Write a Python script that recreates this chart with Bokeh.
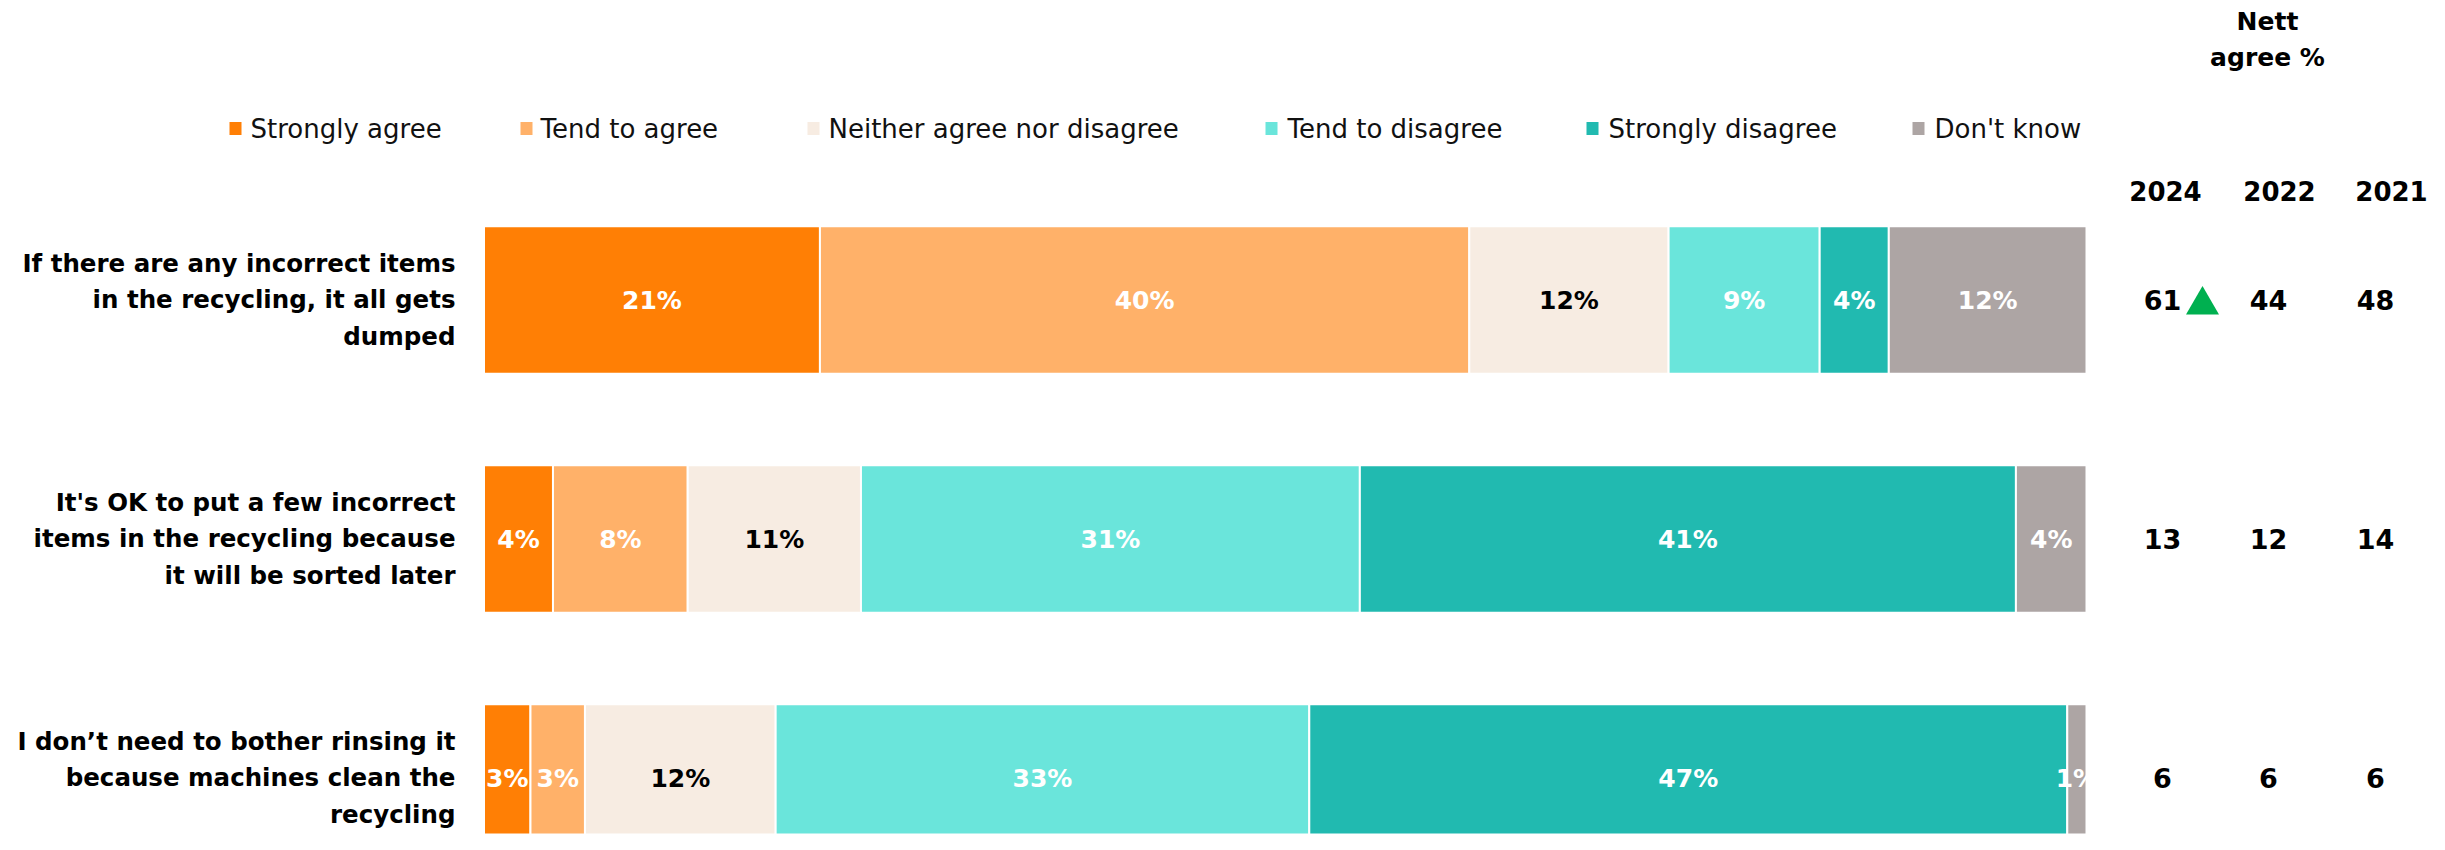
from bokeh.plotting import figure
from bokeh.models import Range1d
from bokeh.core.properties import value
from bokeh.embed import file_html
from bokeh.resources import INLINE

# ---------------- data ----------------
statements = [
    "If there are any incorrect items\nin the recycling, it all gets\ndumped",
    "It's OK to put a few incorrect\nitems in the recycling because\nit will be sorted later",
    "I don\u2019t need to bother rinsing it\nbecause machines clean the\nrecycling",
]
categories = ["Strongly agree", "Tend to agree", "Neither agree nor disagree",
              "Tend to disagree", "Strongly disagree", "Don't know"]
strongly_agree = [20.9, 4.3, 2.9]
tend_to_agree = [40.4, 8.4, 3.4]
neither = [12.4, 10.8, 11.9]
tend_to_disagree = [9.4, 31.1, 33.3]
strongly_disagree = [4.3, 40.9, 47.3]
dont_know = [12.3, 4.4, 1.2]

years = ["2024", "2022", "2021"]
nett_2024 = [61, 13, 6]
nett_2022 = [44, 12, 6]
nett_2021 = [48, 14, 6]
sig_increase_2024 = [True, False, False]

# ---------------- styles / layout ----------------
colors = ["#FF7F05", "#FFB169", "#F7ECE2", "#6AE5DB", "#21BAB0", "#ADA5A4"]
label_colors = ["white", "white", "black", "white", "white", "white"]
FONT = "DejaVu Sans"

W, H = 2429, 834
OFFSET = 0                # canvas offset relative to reference pixels
PX_PER_UNIT = 16.025      # pixels per percentage point
BAR_LEFT_PX = 483.5       # canvas px of 0%
ROW_PX = 239.0            # pixels between rows
ROW0_PX = 299.5           # canvas px of first row centre


def X(ref_px):
    return (ref_px - OFFSET - BAR_LEFT_PX) / PX_PER_UNIT


def Y(ref_py):
    return (ref_py - OFFSET - ROW0_PX) / ROW_PX


p = figure(width=W, height=H,
           x_range=Range1d(-BAR_LEFT_PX / PX_PER_UNIT, (W - BAR_LEFT_PX) / PX_PER_UNIT),
           y_range=Range1d((H - ROW0_PX) / ROW_PX, -ROW0_PX / ROW_PX),
           x_axis_location=None, y_axis_location=None,
           toolbar_location=None, output_backend="svg", min_border=0)
p.grid.visible = False
p.outline_line_color = None
p.background_fill_color = "white"
p.border_fill_color = "white"

rows = list(range(len(statements)))
series = [strongly_agree, tend_to_agree, neither, tend_to_disagree, strongly_disagree, dont_know]
totals = [sum(s[i] for s in series) for i in rows]

left = [0.0] * len(rows)
for vals, col, tcol in zip(series, colors, label_colors):
    widths = [vals[i] / totals[i] * 100 for i in rows]
    right = [left[i] + widths[i] for i in rows]
    p.hbar(y=rows, left=left, right=right, height=0.617,
           fill_color=col, line_color="white", line_width=2)
    mids = [(left[i] + right[i]) / 2 for i in rows]
    p.text(x=mids, y=rows, text=[f"{v:.0f}%" for v in vals],
           text_align="center", text_baseline="middle",
           text_font=value(FONT), text_font_style="bold",
           text_font_size="25px", text_color=tcol)
    left = right

# statement labels
p.text(x=[X(455)] * len(rows), y=rows, text=statements,
       text_align="right", text_baseline="middle",
       text_font=value(FONT), text_font_style="bold", text_font_size="24.5px",
       text_line_height=1.27, text_color="black")

# legend (custom)
legend_marker_px = [235, 526, 813, 1271, 1592, 1918]
legend_text_px = [250, 540, 828, 1287, 1608, 1934]
ly = Y(128)
p.rect(x=[X(v) for v in legend_marker_px], y=[ly] * 6, width=12, height=13,
       width_units="screen", height_units="screen", fill_color=colors, line_color=None)
p.text(x=[X(v) for v in legend_text_px], y=[ly] * 6, text=categories,
       text_align="left", text_baseline="middle",
       text_font=value(FONT), text_font_size="26px", text_color="#111111")

# Nett agree columns
p.text(x=[X(2267)], y=[Y(39)], text=["Nett\nagree %"],
       text_align="center", text_baseline="middle",
       text_font=value(FONT), text_font_style="bold", text_font_size="25px",
       text_line_height=1.25, text_color="black")
header_px = [2165, 2279, 2391]
p.text(x=[X(v) for v in header_px], y=[Y(190)] * 3, text=years,
       text_align="center", text_baseline="middle",
       text_font=value(FONT), text_font_style="bold", text_font_size="26px",
       text_color="black")
col_px = [2162, 2268, 2375]
for cx, vals in zip(col_px, [nett_2024, nett_2022, nett_2021]):
    p.text(x=[X(cx)] * len(rows), y=rows, text=[str(v) for v in vals],
           text_align="center", text_baseline="middle",
           text_font=value(FONT), text_font_style="bold", text_font_size="27px",
           text_color="black")

# significance arrow
sig_rows = [r for r in rows if sig_increase_2024[r]]
p.scatter(x=[X(2202)] * len(sig_rows), y=[r + 0.021 for r in sig_rows],
          marker="triangle", size=33, fill_color="#00B050", line_color=None)

open("out.html", "w").write(file_html(p, INLINE))
